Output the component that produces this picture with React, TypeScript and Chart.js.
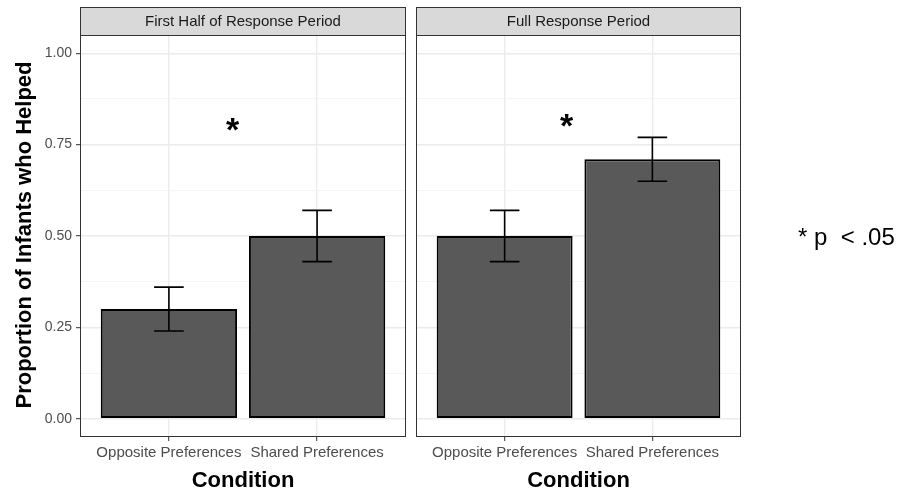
import React, { useEffect, useRef } from "react";
import { Chart, registerables } from "chart.js";
Chart.register(...registerables);

const panelTitles = ["First Half of Response Period", "Full Response Period"];
const categories = ["Opposite Preferences", "Shared Preferences"];
const firstHalfValues = [0.3, 0.5];
const firstHalfLower = [0.24, 0.43];
const firstHalfUpper = [0.36, 0.57];
const fullValues = [0.5, 0.71];
const fullLower = [0.43, 0.65];
const fullUpper = [0.57, 0.77];
const starX = [1.43, 1.42];
const starY = [0.8, 0.81];
const yMajorTicks = [0, 0.25, 0.5, 0.75, 1.0];
const yMinorTicks = [0.125, 0.375, 0.625, 0.875];
const yTitle = "Proportion of Infants who Helped";
const xTitle = "Condition";
const noteText = "* p  < .05";

const FONT = "'Liberation Sans', Arial, Helvetica, sans-serif";
const isMajor = (v: number) => yMajorTicks.some((t) => Math.abs(t - v) < 1e-9);

function makeConfig(
  panelIdx: number,
  values: number[],
  lower: number[],
  upper: number[],
  showY: boolean,
  yWidth: number,
  padRight: number
): any {
  const overlay = {
    id: "overlay" + panelIdx,
    afterDatasetsDraw(chart: any) {
      const ctx = chart.ctx;
      const xs = chart.scales.x;
      const ys = chart.scales.y;
      ctx.save();
      ctx.strokeStyle = "#000";
      ctx.lineWidth = 1.6;
      for (let i = 0; i < values.length; i++) {
        const cx = xs.getPixelForValue(i + 1);
        const half = xs.getPixelForValue(i + 1.1) - cx;
        const yl = ys.getPixelForValue(lower[i]);
        const yu = ys.getPixelForValue(upper[i]);
        ctx.beginPath();
        ctx.moveTo(cx, yl);
        ctx.lineTo(cx, yu);
        ctx.moveTo(cx - half, yl);
        ctx.lineTo(cx + half, yl);
        ctx.moveTo(cx - half, yu);
        ctx.lineTo(cx + half, yu);
        ctx.stroke();
      }
      // significance star
      const fs = 34;
      ctx.fillStyle = "#000";
      ctx.font = `bold ${fs}px ${FONT}`;
      ctx.textAlign = "center";
      ctx.textBaseline = "alphabetic";
      ctx.fillText("*", xs.getPixelForValue(starX[panelIdx]), ys.getPixelForValue(starY[panelIdx]) + 0.43 * fs);
      ctx.restore();
    },
    afterDraw(chart: any) {
      const ctx = chart.ctx;
      const a = chart.chartArea;
      ctx.save();
      // panel border
      ctx.strokeStyle = "#333333";
      ctx.lineWidth = 1;
      ctx.strokeRect(a.left + 0.5, a.top + 0.5, a.right - a.left - 1, a.bottom - a.top - 1);
      // strip
      const sTop = 7;
      ctx.fillStyle = "#d9d9d9";
      ctx.fillRect(a.left, sTop, a.right - a.left, a.top - sTop);
      ctx.strokeRect(a.left + 0.5, sTop + 0.5, a.right - a.left - 1, a.top - sTop);
      ctx.fillStyle = "#1a1a1a";
      ctx.font = `15px ${FONT}`;
      ctx.textAlign = "center";
      ctx.textBaseline = "middle";
      ctx.fillText(panelTitles[panelIdx], (a.left + a.right) / 2, (sTop + a.top) / 2 + 0.5);
      // x title
      ctx.fillStyle = "#000";
      ctx.font = `bold 22px ${FONT}`;
      ctx.textBaseline = "alphabetic";
      ctx.fillText(xTitle, (a.left + a.right) / 2, 487);
      // y title
      if (showY) {
        ctx.translate(31, (a.top + a.bottom) / 2 - 1);
        ctx.rotate(-Math.PI / 2);
        ctx.fillText(yTitle, 0, 0);
      }
      ctx.restore();
    },
  };

  return {
    type: "bar",
    data: {
      datasets: [
        {
          data: values.map((v, i) => ({ x: i + 1, y: v })),
          backgroundColor: "#595959",
          borderColor: "#000000",
          borderWidth: 2,
          borderSkipped: false,
          barPercentage: 0.92,
          categoryPercentage: 1,
        },
      ],
    },
    options: {
      responsive: false,
      animation: false,
      events: [],
      layout: { padding: { top: 35, right: padRight, left: 0, bottom: 0 } },
      plugins: { legend: { display: false }, tooltip: { enabled: false }, title: { display: false } },
      scales: {
        x: {
          type: "linear",
          min: 0.4,
          max: 2.6,
          offset: false,
          afterBuildTicks: (s: any) => {
            s.ticks = categories.map((_, i) => ({ value: i + 1 }));
          },
          afterFit: (s: any) => {
            s.height = 58;
          },
          border: { display: false },
          grid: { offset: false, color: "#ebebeb", lineWidth: 1.4, tickLength: 4, tickColor: "#333333", tickWidth: 1 },
          ticks: {
            autoSkip: false,
            maxRotation: 0,
            padding: 3,
            color: "#4d4d4d",
            font: { family: FONT, size: 15 },
            callback: (v: any) => categories[Math.round(v) - 1],
          },
        },
        y: {
          type: "linear",
          min: -0.05,
          max: 1.05,
          afterBuildTicks: (s: any) => {
            s.ticks = [...yMajorTicks, ...yMinorTicks].sort((p, q) => p - q).map((v) => ({ value: v }));
          },
          afterFit: (s: any) => {
            s.width = yWidth;
          },
          border: { display: false },
          grid: {
            color: (c: any) => (isMajor(c.tick.value) ? "#ebebeb" : "#f3f3f3"),
            lineWidth: (c: any) => (isMajor(c.tick.value) ? 1.4 : 0.8),
            drawTicks: showY,
            tickLength: 4,
            tickColor: (c: any) => (isMajor(c.tick.value) ? "#333333" : "rgba(0,0,0,0)"),
            tickWidth: 1,
          },
          ticks: {
            display: showY,
            autoSkip: false,
            padding: 4,
            color: "#4d4d4d",
            font: { family: FONT, size: 14 },
            callback: (v: any) => (isMajor(v) ? Number(v).toFixed(2) : ""),
          },
        },
      },
    },
    plugins: [overlay],
  };
}

export default function App() {
  const leftRef = useRef<HTMLCanvasElement>(null);
  const rightRef = useRef<HTMLCanvasElement>(null);

  useEffect(() => {
    const c1 = new Chart(
      leftRef.current as HTMLCanvasElement,
      makeConfig(0, firstHalfValues, firstHalfLower, firstHalfUpper, true, 80, 4)
    );
    const c2 = new Chart(
      rightRef.current as HTMLCanvasElement,
      makeConfig(1, fullValues, fullLower, fullUpper, false, 6, 495 - 331)
    );
    return () => {
      c1.destroy();
      c2.destroy();
    };
  }, []);

  return (
    <div style={{ position: "fixed", left: 0, top: 0, width: 905, height: 495, background: "#fff", overflow: "hidden" }}>
      <canvas ref={leftRef} width={410} height={495} style={{ position: "absolute", left: 0, top: 0, width: 410, height: 495 }} />
      <canvas ref={rightRef} width={495} height={495} style={{ position: "absolute", left: 410, top: 0, width: 495, height: 495 }} />
      <div
        style={{
          position: "absolute",
          left: 798,
          top: 225,
          fontFamily: FONT,
          fontSize: 24,
          lineHeight: "24px",
          whiteSpace: "pre",
          color: "#000",
        }}
      >
        {noteText}
      </div>
    </div>
  );
}
